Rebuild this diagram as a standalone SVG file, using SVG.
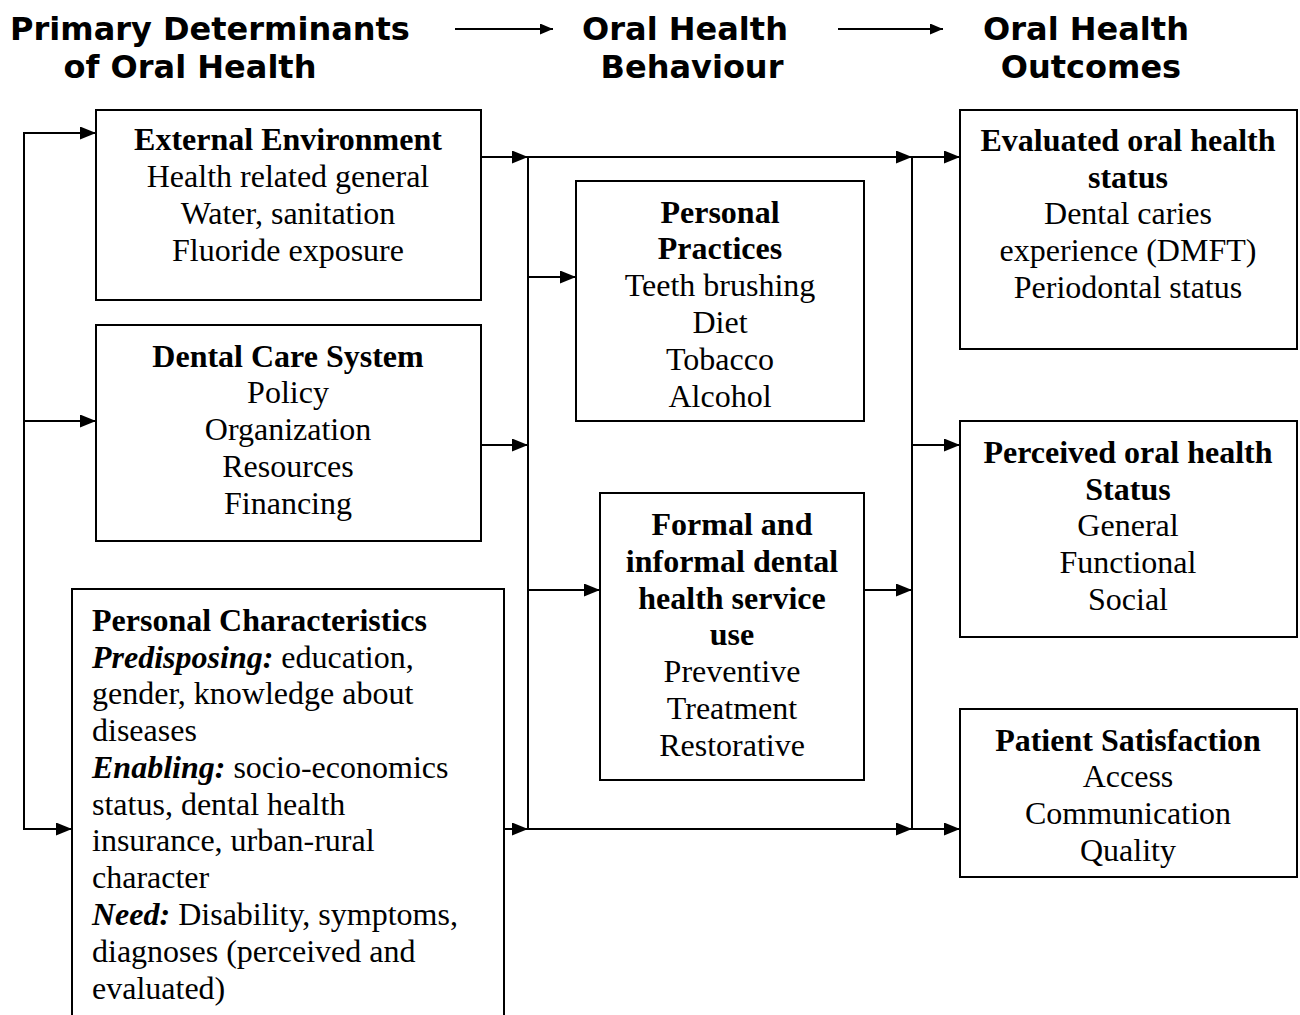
<svg xmlns="http://www.w3.org/2000/svg" width="1300" height="1015" viewBox="0 0 1300 1015">
  <style>
    .box { fill: #fff; stroke: #000; stroke-width: 2; }
    .head { font-family: "DejaVu Sans", Verdana, sans-serif; font-weight: bold; font-size: 32px; fill: #000; text-anchor: middle; }
    .t { font-family: "Liberation Serif", "Times New Roman", serif; font-size: 32px; fill: #000; }
    .c { text-anchor: middle; }
    .b { font-weight: bold; }
    .bi { font-weight: bold; font-style: italic; }
    .wire { fill: none; stroke: #000; stroke-width: 2; }
  </style>
  <defs>
    <marker id="arrow" viewBox="0 0 16 13" refX="16" refY="6.5" markerWidth="16" markerHeight="13" markerUnits="userSpaceOnUse" orient="auto">
      <path d="M0,0 L16,6.5 L0,13 Z" fill="#000"/>
    </marker>
    <marker id="arrow-small" viewBox="0 0 13 11" refX="13" refY="5.5" markerWidth="13" markerHeight="11" markerUnits="userSpaceOnUse" orient="auto">
      <path d="M0,0 L13,5.5 L0,11 Z" fill="#000"/>
    </marker>
  </defs>
  <rect width="1300" height="1015" fill="#fff"/>

  <!-- column headings -->
  <g id="headings">
    <text class="head" x="210" y="40">Primary Determinants</text>
    <text class="head" x="190" y="78">of Oral Health</text>
    <text class="head" x="685" y="40">Oral Health</text>
    <text class="head" x="692" y="78">Behaviour</text>
    <text class="head" x="1086" y="40">Oral Health</text>
    <text class="head" x="1091" y="78">Outcomes</text>
    <line class="wire" x1="455" y1="29" x2="553" y2="29" marker-end="url(#arrow-small)"/>
    <line class="wire" x1="838" y1="29" x2="943" y2="29" marker-end="url(#arrow-small)"/>
  </g>

  <!-- connectors -->
  <g id="connectors">
    <!-- feedback bus on the left -->
    <polyline class="wire" points="24,829 24,133"/>
    <line class="wire" x1="23" y1="133" x2="96" y2="133" marker-end="url(#arrow)"/>
    <line class="wire" x1="24" y1="421" x2="96" y2="421" marker-end="url(#arrow)"/>
    <line class="wire" x1="23" y1="829" x2="72" y2="829" marker-end="url(#arrow)"/>
    <!-- determinants into behaviour bus -->
    <line class="wire" x1="481" y1="157" x2="528" y2="157" marker-end="url(#arrow)"/>
    <line class="wire" x1="481" y1="445" x2="528" y2="445" marker-end="url(#arrow)"/>
    <line class="wire" x1="504" y1="829" x2="528" y2="829" marker-end="url(#arrow)"/>
    <line class="wire" x1="528" y1="156" x2="528" y2="830"/>
    <!-- behaviour bus outputs -->
    <line class="wire" x1="528" y1="277" x2="576" y2="277" marker-end="url(#arrow)"/>
    <line class="wire" x1="528" y1="590" x2="600" y2="590" marker-end="url(#arrow)"/>
    <line class="wire" x1="528" y1="157" x2="912" y2="157" marker-end="url(#arrow)"/>
    <line class="wire" x1="528" y1="829" x2="912" y2="829" marker-end="url(#arrow)"/>
    <line class="wire" x1="864" y1="590" x2="912" y2="590" marker-end="url(#arrow)"/>
    <!-- outcomes bus -->
    <line class="wire" x1="912" y1="156" x2="912" y2="830"/>
    <line class="wire" x1="912" y1="157" x2="960" y2="157" marker-end="url(#arrow)"/>
    <line class="wire" x1="912" y1="445" x2="960" y2="445" marker-end="url(#arrow)"/>
    <line class="wire" x1="912" y1="829" x2="960" y2="829" marker-end="url(#arrow)"/>
  </g>

  <g id="external-environment">
    <rect class="box" x="96" y="110" width="385" height="190"/>
    <text class="t c b" x="288" y="150">External Environment</text>
    <text class="t c" x="288" y="187">Health related general</text>
    <text class="t c" x="288" y="224">Water, sanitation</text>
    <text class="t c" x="288" y="261">Fluoride exposure</text>
  </g>

  <g id="dental-care-system">
    <rect class="box" x="96" y="325" width="385" height="216"/>
    <text class="t c b" x="288" y="367">Dental Care System</text>
    <text class="t c" x="288" y="403">Policy</text>
    <text class="t c" x="288" y="440">Organization</text>
    <text class="t c" x="288" y="477">Resources</text>
    <text class="t c" x="288" y="514">Financing</text>
  </g>

  <g id="personal-characteristics">
    <polyline class="box" points="72,1016 72,589 504,589 504,1016"/>
    <text class="t" x="92" y="631"><tspan class="b">Personal Characteristics</tspan></text>
    <text class="t" x="92" y="668"><tspan class="bi">Predisposing:</tspan> education,</text>
    <text class="t" x="92" y="704">gender, knowledge about</text>
    <text class="t" x="92" y="741">diseases</text>
    <text class="t" x="92" y="778"><tspan class="bi">Enabling:</tspan> socio-economics</text>
    <text class="t" x="92" y="815">status, dental health</text>
    <text class="t" x="92" y="851">insurance, urban-rural</text>
    <text class="t" x="92" y="888">character</text>
    <text class="t" x="92" y="925"><tspan class="bi">Need:</tspan> Disability, symptoms,</text>
    <text class="t" x="92" y="962">diagnoses (perceived and</text>
    <text class="t" x="92" y="999">evaluated)</text>
  </g>

  <g id="personal-practices">
    <rect class="box" x="576" y="181" width="288" height="240"/>
    <text class="t c b" x="720" y="223">Personal</text>
    <text class="t c b" x="720" y="259">Practices</text>
    <text class="t c" x="720" y="296">Teeth brushing</text>
    <text class="t c" x="720" y="333">Diet</text>
    <text class="t c" x="720" y="370">Tobacco</text>
    <text class="t c" x="720" y="407">Alcohol</text>
  </g>

  <g id="dental-service-use">
    <rect class="box" x="600" y="493" width="264" height="287"/>
    <text class="t c b" x="732" y="535">Formal and</text>
    <text class="t c b" x="732" y="572">informal dental</text>
    <text class="t c b" x="732" y="609">health service</text>
    <text class="t c b" x="732" y="645">use</text>
    <text class="t c" x="732" y="682">Preventive</text>
    <text class="t c" x="732" y="719">Treatment</text>
    <text class="t c" x="732" y="756">Restorative</text>
  </g>

  <g id="evaluated-status">
    <rect class="box" x="960" y="110" width="337" height="239"/>
    <text class="t c b" x="1128" y="151">Evaluated oral health</text>
    <text class="t c b" x="1128" y="188">status</text>
    <text class="t c" x="1128" y="224">Dental caries</text>
    <text class="t c" x="1128" y="261">experience (DMFT)</text>
    <text class="t c" x="1128" y="298">Periodontal status</text>
  </g>

  <g id="perceived-status">
    <rect class="box" x="960" y="421" width="337" height="216"/>
    <text class="t c b" x="1128" y="463">Perceived oral health</text>
    <text class="t c b" x="1128" y="500">Status</text>
    <text class="t c" x="1128" y="536">General</text>
    <text class="t c" x="1128" y="573">Functional</text>
    <text class="t c" x="1128" y="610">Social</text>
  </g>

  <g id="patient-satisfaction">
    <rect class="box" x="960" y="709" width="337" height="168"/>
    <text class="t c b" x="1128" y="751">Patient Satisfaction</text>
    <text class="t c" x="1128" y="787">Access</text>
    <text class="t c" x="1128" y="824">Communication</text>
    <text class="t c" x="1128" y="861">Quality</text>
  </g>
</svg>
